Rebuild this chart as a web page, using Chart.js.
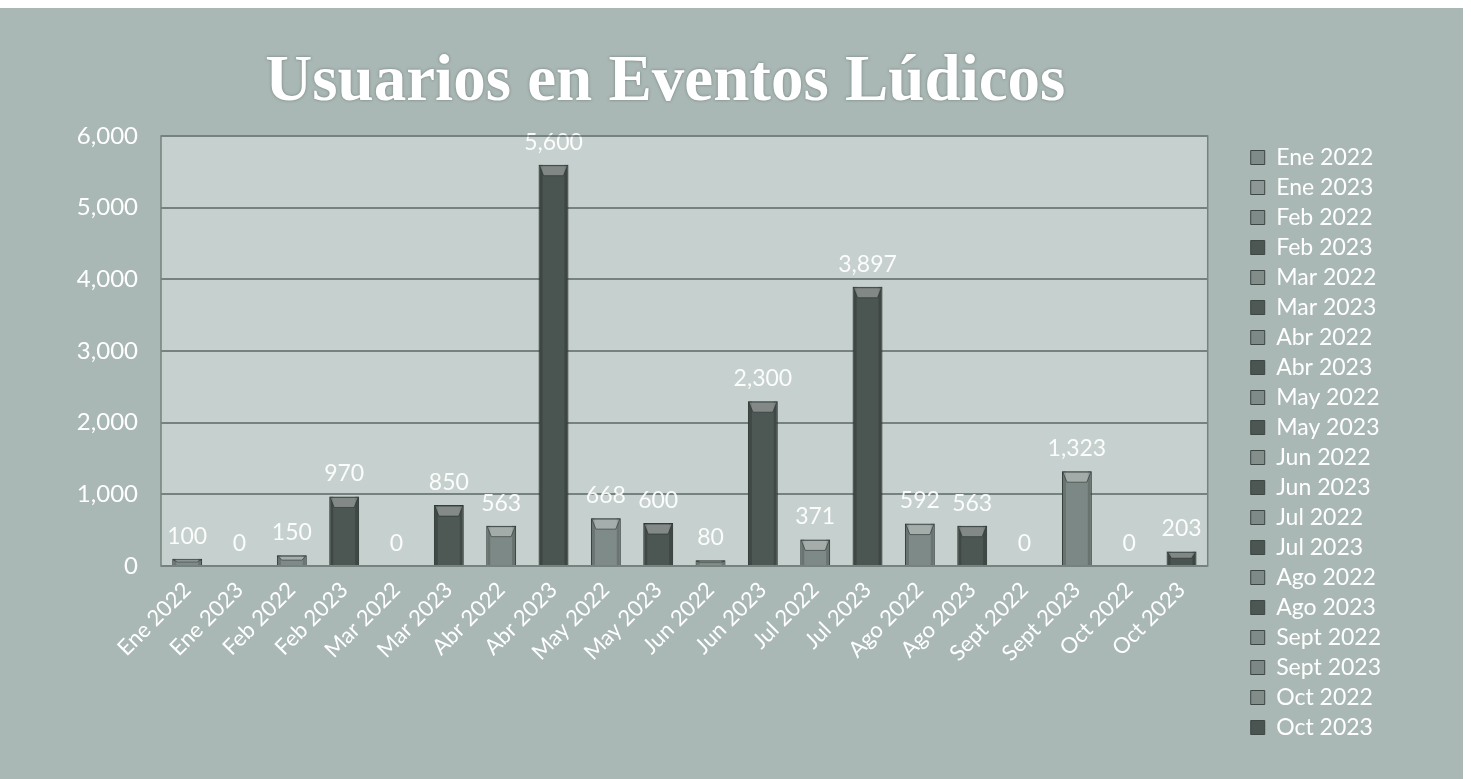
<!DOCTYPE html>
<html lang="es">
<head>
<meta charset="utf-8">
<title>Usuarios en Eventos Lúdicos</title>
<script src="https://cdn.jsdelivr.net/npm/chart.js@4.4.1/dist/chart.umd.min.js"></script>
<style>
  html, body { margin: 0; padding: 0; background: #ffffff; }
  #marco { position: absolute; left: 0; top: 8px; width: 1463px; height: 771px; }
</style>
</head>
<body>
<div id="marco"><canvas id="grafico"></canvas></div>
<script>
// Meses y usuarios por evento
const meses = [
  "Ene 2022", "Ene 2023", "Feb 2022", "Feb 2023", "Mar 2022", "Mar 2023",
  "Abr 2022", "Abr 2023", "May 2022", "May 2023", "Jun 2022", "Jun 2023",
  "Jul 2022", "Jul 2023", "Ago 2022", "Ago 2023", "Sept 2022", "Sept 2023",
  "Oct 2022", "Oct 2023"
];
const usuarios = [100, 0, 150, 970, 0, 850, 563, 5600, 668, 600, 80, 2300, 371, 3897, 592, 563, 0, 1323, 0, 203];
const coloresBarras = [
  "#7f8b88", "#8d9896", "#7f8b88", "#4c5653", "#828d8a", "#4e5855",
  "#7d8986", "#4a5451", "#7f8b88", "#4c5653", "#848f8c", "#4d5754",
  "#7e8a87", "#4b5552", "#7e8a87", "#4c5653", "#7f8b88", "#7c8885",
  "#828d8a", "#4a5451"
];
const ticksY = [0, 1000, 2000, 3000, 4000, 5000, 6000];
const titulo = "Usuarios en Eventos Lúdicos";

const fmt = n => n.toLocaleString("en-US");

// Fondo general, zona de trazado y titulo
const fondo = {
  id: "fondo",
  afterLayout(chart) {
    // separa la leyenda de la zona de trazado y la baja bajo el titulo
    const lg = chart.legend;
    const dx = chart.chartArea.right + 36 - lg.left;
    const dy = 64;
    lg.left += dx;
    lg.right += dx;
    lg.top += dy;
    lg.bottom += dy;
  },
  beforeDraw(chart) {
    const { ctx, chartArea: a, width, height } = chart;
    ctx.save();
    ctx.fillStyle = "#a9b8b5";
    ctx.fillRect(0, 0, width, height);
    ctx.fillStyle = "#c6d0ce";
    ctx.fillRect(a.left, a.top, a.right - a.left, a.bottom - a.top);
    ctx.restore();
  },
  afterDraw(chart) {
    const { ctx, chartArea: a } = chart;
    ctx.save();
    ctx.strokeStyle = "#76827f";
    ctx.lineWidth = 1.5;
    ctx.strokeRect(a.left, a.top, a.right - a.left, a.bottom - a.top);
    ctx.font = "bold 65px 'Liberation Serif'";
    ctx.fillStyle = "#ffffff";
    ctx.textAlign = "center";
    ctx.textBaseline = "alphabetic";
    ctx.shadowColor = "rgba(60,70,68,0.5)";
    ctx.shadowBlur = 3;
    ctx.fillText(titulo, (a.left + a.right) / 2 - 19, 92);
    ctx.restore();
  }
};

// Relieve de las barras y etiquetas de valor
const barrasYEtiquetas = {
  id: "barrasYEtiquetas",
  afterDatasetsDraw(chart) {
    const { ctx } = chart;
    const meta = chart.getDatasetMeta(0);
    ctx.save();
    meta.data.forEach((bar, i) => {
      const { x, y, base, width } = bar.getProps(["x", "y", "base", "width"], true);
      const h = base - y;
      if (h > 2) {
        const l = x - width / 2, r = x + width / 2;
        const bev = Math.min(11, h / 2);
        ctx.fillStyle = "rgba(0,0,0,0.16)";
        ctx.fillRect(l, y, 4, h);
        ctx.fillRect(r - 4, y, 4, h);
        ctx.fillStyle = "rgba(255,255,255,0.30)";
        ctx.beginPath();
        ctx.moveTo(l + 1, y + 1);
        ctx.lineTo(r - 1, y + 1);
        ctx.lineTo(r - 5, y + bev);
        ctx.lineTo(l + 5, y + bev);
        ctx.closePath();
        ctx.fill();
        ctx.strokeStyle = "rgba(40,48,46,0.6)";
        ctx.lineWidth = 1;
        ctx.stroke();
      }
      ctx.font = "23px Lato";
      ctx.fillStyle = "rgba(255,255,255,0.93)";
      ctx.textAlign = "center";
      ctx.textBaseline = "bottom";
      ctx.fillText(fmt(usuarios[i]), x, y - 11);
    });
    ctx.restore();
  }
};

new Chart(document.getElementById("grafico"), {
  type: "bar",
  data: {
    labels: meses,
    datasets: [{
      label: "Usuarios",
      data: usuarios,
      backgroundColor: coloresBarras,
      borderColor: "#3c4643",
      borderWidth: 1,
      barPercentage: 0.6,
      categoryPercentage: 0.95
    }]
  },
  options: {
    responsive: true,
    maintainAspectRatio: false,
    animation: false,
    layout: { padding: { top: 0, left: 10, right: 108, bottom: 30 } },
    plugins: {
      tooltip: { enabled: false },
      // reserva el espacio del titulo; el texto se pinta en el plugin fondo
      title: {
        display: true,
        text: titulo,
        color: "rgba(0,0,0,0)",
        font: { family: "Liberation Serif", size: 65, weight: "bold" },
        padding: { top: 20, bottom: 30 }
      },
      legend: {
        position: "right",
        labels: {
          color: "#ffffff",
          font: { family: "Lato", size: 23 },
          boxWidth: 14,
          boxHeight: 14,
          padding: 7,
          generateLabels() {
            return meses.map((m, i) => ({
              text: m,
              fillStyle: coloresBarras[i],
              strokeStyle: "#3c4643",
              lineWidth: 1,
              fontColor: "#ffffff",
              index: i
            }));
          }
        }
      }
    },
    scales: {
      x: {
        grid: { display: false },
        border: { display: false },
        afterFit(scale) { scale.height = 183; },
        ticks: {
          color: "#ffffff",
          font: { family: "Lato", size: 22 },
          maxRotation: 45,
          minRotation: 45,
          autoSkip: false
        }
      },
      y: {
        min: 0,
        max: 6000,
        afterBuildTicks(axis) { axis.ticks = ticksY.map(v => ({ value: v })); },
        afterFit(scale) { scale.width = 151; },
        grid: { color: "#76827f", lineWidth: 2, drawTicks: false },
        border: { display: false },
        ticks: {
          color: "#ffffff",
          font: { family: "Lato", size: 24 },
          padding: 23,
          callback: v => fmt(v)
        }
      }
    }
  },
  plugins: [fondo, barrasYEtiquetas]
});
</script>
</body>
</html>
